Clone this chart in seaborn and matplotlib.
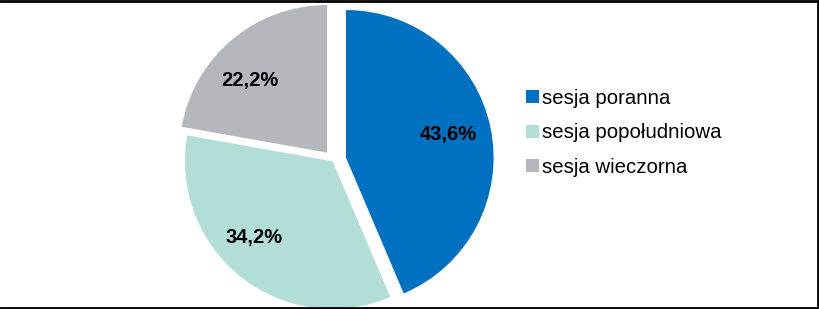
import matplotlib
matplotlib.use("Agg")
import matplotlib.pyplot as plt
import seaborn as sns
import numpy as np
from matplotlib.lines import Line2D

categories = ["sesja poranna", "sesja popołudniowa", "sesja wieczorna"]
values = [43.6, 34.2, 22.2]
colors = ["#0070C0", "#B3DED8", "#B4B7BC"]
explode = [0.087, 0.009, 0.067]

sns.set_theme(style="white")
plt.rcParams["font.family"] = ["Liberation Sans", "DejaVu Sans"]
plt.rcParams["text.color"] = "black"

W, H = 819, 309
fig = plt.figure(figsize=(W / 100, H / 100), dpi=100)
ax = fig.add_axes([0, 0, 1, 1])

R = 147.6
cx, cy = 333.4, H - 160.2

wedges, texts, autotexts = ax.pie(
    values,
    colors=colors,
    startangle=90,
    counterclock=False,
    explode=explode,
    radius=1.0,
    autopct=lambda p: f"{p:.1f}%".replace(".", ","),
    pctdistance=0.72,
    wedgeprops=dict(linewidth=0),
    textprops=dict(fontsize=14.5, fontweight="bold", color="#000000"),
)
ax.set_axis_off()
ax.set_aspect("auto")
ax.set_xlim(-cx / R, (W - cx) / R)
ax.set_ylim(-cy / R, (H - cy) / R)

# label placement tweaks (angle shift in degrees, radial distance)
label_shift = [1.0, -7.5, 7.0]
label_dist = [0.71, 0.74, 0.72]
for w, t, s, d in zip(wedges, autotexts, label_shift, label_dist):
    mid = np.deg2rad((w.theta1 + w.theta2) / 2 + s)
    x0, y0 = w.center
    t.set_position((x0 + d * w.r * np.cos(mid), y0 + d * w.r * np.sin(mid)))

fig.legend(
    wedges,
    categories,
    loc="center left",
    bbox_to_anchor=(526 / W, (H - 133) / H),
    frameon=False,
    fontsize=14.7,
    labelcolor="black",
    handlelength=0.62,
    handleheight=0.62,
    handletextpad=0.15,
    labelspacing=0.76,
    borderpad=0,
    borderaxespad=0,
)

# outer frame (top, right, bottom)
lw = 2
fig.add_artist(Line2D([0, 1], [1 - 0.5 / H, 1 - 0.5 / H], transform=fig.transFigure, color="black", lw=lw))
fig.add_artist(Line2D([1 - 1 / W, 1 - 1 / W], [0, 1], transform=fig.transFigure, color="black", lw=lw))
fig.add_artist(Line2D([0, 1], [1.5 / H, 1.5 / H], transform=fig.transFigure, color="black", lw=lw))

fig.savefig("out.png", dpi=100, facecolor="white")
